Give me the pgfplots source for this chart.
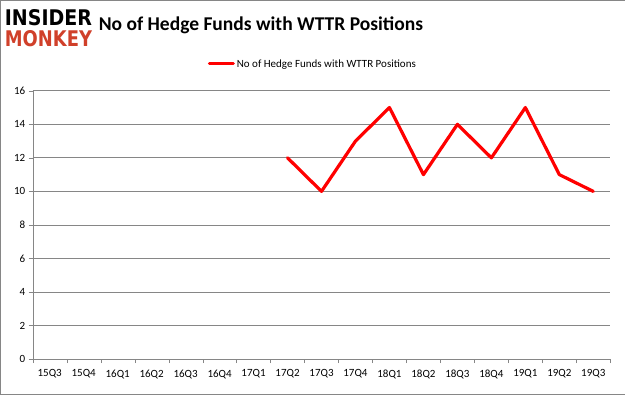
\documentclass[border=0pt]{standalone}
\usepackage{pgfplots}
\pgfplotsset{compat=1.18}
\usepackage{fontspec}
\usepackage{graphicx}
\setmainfont{Carlito}
\newfontfamily\logofont{DejaVu Sans}
\definecolor{gridgray}{RGB}{134,134,134}
\definecolor{monkeyred}{RGB}{208,64,42}
\begin{document}
\begin{tikzpicture}
\draw[gridgray] (0.5pt,0.5pt) rectangle (624.5pt,394.5pt);
\node[anchor=north west,inner sep=0] at (5pt,385pt) {\resizebox{87pt}{16pt}{\logofont\bfseries INSIDER}};
\node[anchor=north west,inner sep=0] at (5pt,364pt) {\resizebox{87pt}{16pt}{\logofont\bfseries\color{monkeyred}MONKEY}};
\node[font=\fontsize{19.5}{22}\selectfont\bfseries] at (261pt,369pt) {No of Hedge Funds with WTTR Positions};
\begin{axis}[
  at={(33pt,36pt)}, anchor=south west,
  width=577pt, height=268pt, scale only axis,
  xmin=-0.5, xmax=16.5, ymin=0, ymax=16,
  xtick={0,...,16},
  xticklabels={15Q3,15Q4,16Q1,16Q2,16Q3,16Q4,17Q1,17Q2,17Q3,17Q4,18Q1,18Q2,18Q3,18Q4,19Q1,19Q2,19Q3},
  minor xtick={-0.5,0.5,...,16.5},
  ytick={0,2,...,16},
  major x tick style={draw=none},
  minor tick length=4pt, major tick length=4pt,
  tick align=outside,
  axis x line*=bottom, axis y line*=left,
  axis line style={gridgray,-},
  tick style={gridgray},
  ymajorgrids, grid style={gridgray,line width=0.8pt},
  ticklabel style={font=\fontsize{11}{13}\selectfont},
  /pgf/number format/assume math mode=true,
  xticklabel style={yshift=-3pt},
  legend style={at={(0.485,1.1)},anchor=center,draw=none,fill=none,font=\fontsize{11}{13}\selectfont},
  legend cell align=left,
  legend image code/.code={\draw[#1,line width=3pt] (0pt,0pt) -- (24pt,0pt);},
]
\addplot[red, line width=3.2pt, line join=round, line cap=round] coordinates {
(7,12) (8,10) (9,13) (10,15) (11,11) (12,14) (13,12) (14,15) (15,11) (16,10)};
\addlegendentry{No of Hedge Funds with WTTR Positions}
\end{axis}
\end{tikzpicture}
\end{document}
